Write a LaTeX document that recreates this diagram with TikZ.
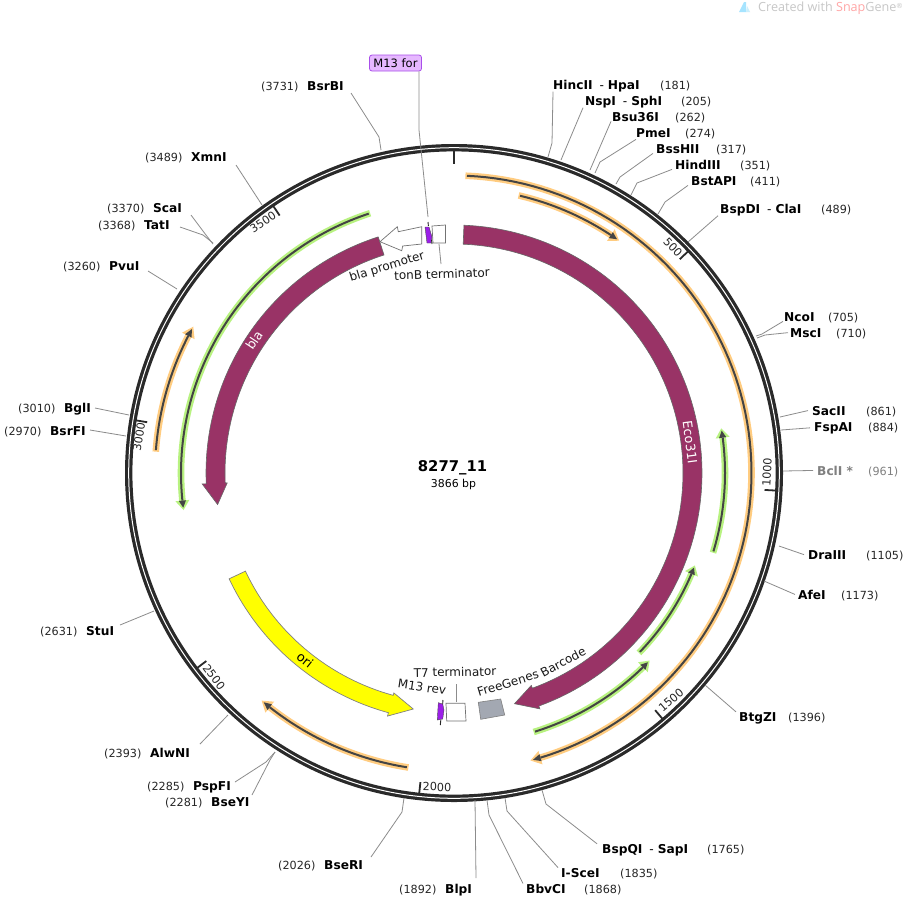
\documentclass[tikz,border=0pt]{standalone}
\usepackage{fontspec}
\setmainfont{DejaVu Sans}
\newfontfamily\wmfont{Open Sans}
\definecolor{ringc}{HTML}{2A2A2A}
\definecolor{leadc}{HTML}{8C8C8C}
\definecolor{plum}{HTML}{993366}
\definecolor{glowo}{HTML}{FFCC80}
\definecolor{glowg}{HTML}{B8F280}
\definecolor{darkarc}{HTML}{444444}
\definecolor{violet1}{HTML}{9B1FE8}
\definecolor{boxfill}{HTML}{E6B8FF}
\definecolor{boxline}{HTML}{A94FEA}
\definecolor{greyfeat}{HTML}{A3A8B2}
\definecolor{oriyellow}{rgb}{1,1,0}
\newcommand\PP[2]{({454+(#1)*sin(#2)},{473-(#1)*cos(#2)})}
\newcommand\ArcPlot[3]{plot[domain=#2:#3,samples=90,variable=\vv] ({454+(#1)*sin(\vv)},{473-(#1)*cos(\vv)})}
% inner r, outer r, start angle, head base angle, tip angle, head inner r, head outer r, style
\newcommand\Feat[8]{\draw[#8] \ArcPlot{#2}{#3}{#4} -- \PP{#7}{#4} -- \PP{(#1+#2)/2}{#5} -- \PP{#6}{#4} -- plot[domain=#4:#3,samples=90,variable=\vv] ({454+(#1)*sin(\vv)},{473-(#1)*cos(\vv)}) -- cycle;}
% r, tail angle, tip angle, glow colour, direction sign
\newcommand\Primer[5]{%
  \pgfmathsetmacro\pbase{#3-(#5)*1.5}%
  \pgfmathsetmacro\ptail{#2-(#5)*0.3}%
  \pgfmathsetmacro\pnose{#3+(#5)*0.5}%
  \draw[#4,line width=6.6pt] \ArcPlot{#1}{\ptail}{\pbase};
  \fill[#4] \PP{#1-7}{\pbase} -- \PP{#1+7}{\pbase} -- \PP{#1}{\pnose} -- cycle;
  \draw[darkarc,line width=2pt] \ArcPlot{#1}{#2}{\pbase};
  \fill[darkarc] \PP{#1-3.6}{\pbase} -- \PP{#1+3.6}{\pbase} -- \PP{#1}{#3} -- cycle;
}
\newcommand\Renz[6]{%
  \node[enz,anchor=base west] (#1) at (#2,{#3+4}) {#4};
  \node[numl,anchor=base west] (#1n) at (#5,{#3+4}) {#6};
}
\newcommand\Dash{\hspace{7pt}{\mdseries -}\hspace{4pt}}
\tikzset{
  x=1pt,y=-1pt,
  enz/.style={inner sep=0pt,font=\fontsize{12.2}{14}\selectfont\bfseries,text=black},
  numl/.style={inner sep=0pt,font=\fontsize{11.2}{14}\selectfont,text=black!85},
  leader/.style={draw=leadc,line width=0.8pt},
  tickm/.style={draw=ringc,line width=1.8pt},
  ticklabel/.style={inner sep=0pt,font=\fontsize{11.2}{14}\selectfont,text=black!85},
  featlabel/.style={inner sep=0pt,font=\fontsize{12}{14}\selectfont,text=black!90},
  insidelabel/.style={inner sep=0pt,font=\fontsize{12.8}{14}\selectfont},
  plumf/.style={fill=plum,draw=black!60,line width=0.6pt},
  whitef/.style={fill=white,draw=black!55,line width=0.7pt},
}
\begin{document}
\begin{tikzpicture}
\useasboundingbox (0,0) rectangle (909,898);
\fill[white] (0,0) rectangle (909,898);

% watermark
\fill[blue!30!cyan!35] (739,12) -- (744,2) -- (746,2) -- (746,12) -- cycle;
\fill[cyan!20] (747,6) -- (750,12) -- (746,12) -- cycle;
\node[inner sep=0pt,anchor=base west,font=\wmfont\fontsize{12.6}{14}\selectfont,text=black!22] (wm) at (758,11) {Created with \textcolor{red!35}{Snap}Gene\raisebox{3pt}{\fontsize{7}{8}\selectfont®}};

% ring
\draw[ringc,line width=7.4pt] (454,473) circle[radius=325.3];
\draw[white,line width=1pt] (454,473) circle[radius=325.3];

% ticks
\draw[draw=ringc,line width=2.8pt] \PP{323}{0} -- \PP{309}{0};
\foreach \a in {46.56,93.12,139.7,186.2,232.8,279.4,325.9}{\draw[tickm] \PP{323}{\a} -- \PP{311}{\a};}
\node[ticklabel,rotate=-46.6] (t500) at (673,247) {500};
\node[ticklabel,rotate=87] (t1000) at (767,472) {1000};
\node[ticklabel,rotate=40.3] (t1500) at (671,700) {1500};
\node[ticklabel,rotate=-1] (t2000) at (437,787) {2000};
\node[ticklabel,rotate=-52.8] (t2500) at (214,677) {2500};
\node[ticklabel,rotate=80.6] (t3000) at (139,437) {3000};
\node[ticklabel,rotate=34.1] (t3500) at (263,222) {3500};

% primers
\Primer{297.5}{2.5}{164.6}{glowo}{1}
\Primer{285}{13.4}{34.9}{glowo}{1}
\Primer{298}{189.1}{219.7}{glowo}{1}
\Primer{299}{274.4}{298.8}{glowo}{1}
\Primer{273}{341.8}{262.7}{glowg}{-1}
\Primer{271}{106.8}{81}{glowg}{-1}
\Primer{258}{133.9}{111.5}{glowg}{-1}
\Primer{271}{162.6}{134.3}{glowg}{-1}

% big features
\Feat{229}{248}{2.3}{160}{165.3}{226}{251}{plumf}
\Feat{229}{248}{342.2}{267.5}{262.4}{227}{252}{plumf}
\Feat{230.5}{248.5}{244.8}{195.3}{189.8}{228}{252}{fill=oriyellow,draw=black!50,line width=0.7pt}
\node[insidelabel,text=white,rotate=-82.5] (eco) at (690,442) {Eco31I};
\node[insidelabel,text=white,rotate=56.4] (blan) at (254,340) {bla};
\node[insidelabel,text=black,rotate=-38.5] (orin) at (305,660) {ori};

% small features upper
\draw[whitef] (421.7,226.7) -- (398.3,231.7) -- (397.3,226.7) -- (380,241.7) -- (401.7,250.7) -- (402.7,246) -- (421.7,244) -- cycle;
\draw[whitef] (432,226) -- (445.5,225) -- (445.5,243) -- (433,243) -- cycle;
\fill[violet1,draw=black!70,line width=0.4pt] (425,227) -- (429,227) -- (432,237) -- (431,243) -- (427,243) -- cycle;
\draw[black!85,line width=0.9pt] (428,222) -- (428.4,226);
\draw[black!85,line width=0.9pt] (431.6,240) -- (432,244);
\coordinate (tonBtop) at (439,244);
\coordinate (m13tip) at (428,217);
\coordinate (m13elbow) at (419,130);
\node[featlabel,rotate=17] (blaprom) at (387,267) {bla promoter};
\node[featlabel,rotate=2] (tonB) at (442,274) {tonB terminator};
\draw[leader] (tonBtop) -- (441,264);

% M13 for
\node[inner sep=0pt,minimum width=52pt,minimum height=16pt,rounded corners=2.5pt,fill=boxfill,draw=boxline,line width=0.8pt,font=\fontsize{11.5}{14}\selectfont] (m13for) at (395.5,63) {M13 for};
\draw[leader] ([xshift=-3pt]m13for.south east) -- (m13elbow) -- (m13tip);

% small features lower
\draw[whitef] (446,703.3) -- (465,703.3) -- (466,721) -- (446.7,721) -- cycle;
\fill[violet1,draw=black!70,line width=0.4pt] (438.3,702.7) -- (442.7,704) -- (444,710) -- (442.7,719) -- (437.3,720) -- cycle;
\draw[black!85,line width=0.9pt] (442.9,700) -- (442.7,704);
\draw[black!85,line width=0.9pt] (440.8,720) -- (440.3,725);
\draw[fill=greyfeat,draw=black!50,line width=0.6pt] (478.3,702.3) -- (500.7,699) -- (504.7,715) -- (480.7,719.3) -- cycle;
\coordinate (t7box) at (456,702);
\node[featlabel,rotate=1] (t7) at (455,672) {T7 terminator};
\node[featlabel,rotate=-8.5] (m13r) at (422,687) {M13 rev};
\node[featlabel,rotate=17] (fg1) at (508,683) {FreeGenes};
\node[featlabel,rotate=28] (fg2) at (563,662) {Barcode};
\draw[leader] (t7box) -- (456,684);

% centre
\node[inner sep=0pt,font=\fontsize{14.8}{16}\selectfont\bfseries] (title) at (452.5,468) {8277\_11};
\node[inner sep=0pt,font=\fontsize{10.9}{13}\selectfont] (size) at (453.5,484) {3866 bp};

% enzymes right
\Renz{hinc}{553}{85}{HincII\Dash HpaI}{660}{(181)}
\Renz{nsp}{585}{101}{NspI\Dash SphI}{681}{(205)}
\Renz{bsu}{612}{117}{Bsu36I}{675}{(262)}
\Renz{pme}{636}{133}{PmeI}{685}{(274)}
\Renz{bss}{656}{149}{BssHII}{716}{(317)}
\Renz{hind}{675}{165}{HindIII}{740}{(351)}
\Renz{bsta}{691}{181}{BstAPI}{750}{(411)}
\Renz{bspd}{720}{209}{BspDI\Dash ClaI}{821}{(489)}
\Renz{nco}{784}{317}{NcoI}{828}{(705)}
\Renz{msc}{790}{333}{MscI}{836}{(710)}
\Renz{sac}{812}{411}{SacII}{866}{(861)}
\Renz{fsp}{814}{427}{FspAI}{868}{(884)}
\node[enz,anchor=base west,text=black!50] (bcl) at (817,475) {BclI *};
\node[numl,anchor=base west,text=black!50] (bcln) at (868,475) {(961)};
\Renz{dra}{808}{555}{DraIII}{866}{(1105)}
\Renz{afe}{798}{595}{AfeI}{841}{(1173)}
\Renz{btg}{739}{717}{BtgZI}{788}{(1396)}
\Renz{bspq}{602}{849}{BspQI\Dash SapI}{707}{(1765)}
\Renz{sce}{561}{873}{I-SceI}{620}{(1835)}
\Renz{bbv}{526}{889}{BbvCI}{584}{(1868)}
% enzymes left
\Renz{blp}{445}{889}{BlpI}{399}{(1892)}
\Renz{bser}{324}{865}{BseRI}{278}{(2026)}
\Renz{bsey}{211}{802}{BseYI}{165}{(2281)}
\Renz{psp}{193}{786}{PspFI}{147}{(2285)}
\Renz{alw}{150}{753}{AlwNI}{104}{(2393)}
\Renz{stu}{86}{631}{StuI}{40}{(2631)}
\Renz{bsrf}{50}{431}{BsrFI}{4}{(2970)}
\Renz{bgl}{64}{408}{BglI}{18}{(3010)}
\Renz{pvu}{109}{266}{PvuI}{63}{(3260)}
\Renz{tat}{144}{225}{TatI}{98}{(3368)}
\Renz{sca}{153}{208}{ScaI}{107}{(3370)}
\Renz{xmn}{191}{157}{XmnI}{145}{(3489)}
\Renz{bsrb}{307}{86}{BsrBI}{261}{(3731)}

% leaders
\draw[leader] (hinc.south west) -- (552,143) -- (548,157);
\draw[leader] ([xshift=-2pt]nsp.south west) -- (566,148) -- (561,160);
\draw[leader] ([xshift=-1pt]bsu.south west) -- (590,170);
\draw[leader] ([yshift=-2pt]pme.south west) -- (600,162) -- (595,173);
\draw[leader] ([xshift=-3pt]bss.south west) -- (620,177) -- (616,184);
\draw[leader] ([xshift=-3pt]hind.south west) -- (637,183) -- (631,195);
\draw[leader] ([xshift=-3pt]bsta.south west) -- (665,202) -- (658,214);
\draw[leader] ([xshift=-2pt]bspd.south west) -- (688,242);
\draw[leader] ([xshift=-1pt]nco.south west) -- (762,334) -- (756,336);
\draw[leader] ([xshift=-2pt]msc.west) -- (765,335) -- (757,338);
\draw[leader] ([xshift=-4pt]sac.west) -- (780,417);
\draw[leader] ([xshift=-4pt]fsp.west) -- (781,430);
\draw[leader] ([xshift=-4pt]bcl.west) -- (783,471);
\draw[leader] ([xshift=-4pt]dra.west) -- (779,546);
\draw[leader] ([xshift=-3pt]afe.west) -- (764,581);
\draw[leader] ([xshift=-3pt,yshift=6pt]btg.west) -- (705,685);
\draw[leader] ([xshift=-5pt,yshift=6pt]bspq.west) -- (546,804) -- (542,790);
\draw[leader] ([xshift=-3pt,yshift=5pt]sce.west) -- (507,811) -- (505,798);
\draw[leader] ([xshift=-3pt,yshift=5pt]bbv.west) -- (489,815) -- (487,800);
\draw[leader] (476,878) -- (475,800);
\draw[leader] (371,857) -- (402,812) -- (404,798);
\draw[leader] (252,795) -- (270,760) -- (275,752);
\draw[leader] (235,782) -- (266,762) -- (275,752);
\draw[leader] (200,744) -- (228,715);
\draw[leader] (120,625) -- (154,611);
\draw[leader] (90,430) -- (126,436);
\draw[leader] (95,408) -- (129,415);
\draw[leader] (148,271) -- (177,289);
\draw[leader] (180,227) -- (203,235) -- (213,243);
\draw[leader] (191,215) -- (206,235) -- (213,244);
\draw[leader] (236,165) -- (262,205);
\draw[leader] (351,93) -- (379,137) -- (381,150);
\end{tikzpicture}
\end{document}
